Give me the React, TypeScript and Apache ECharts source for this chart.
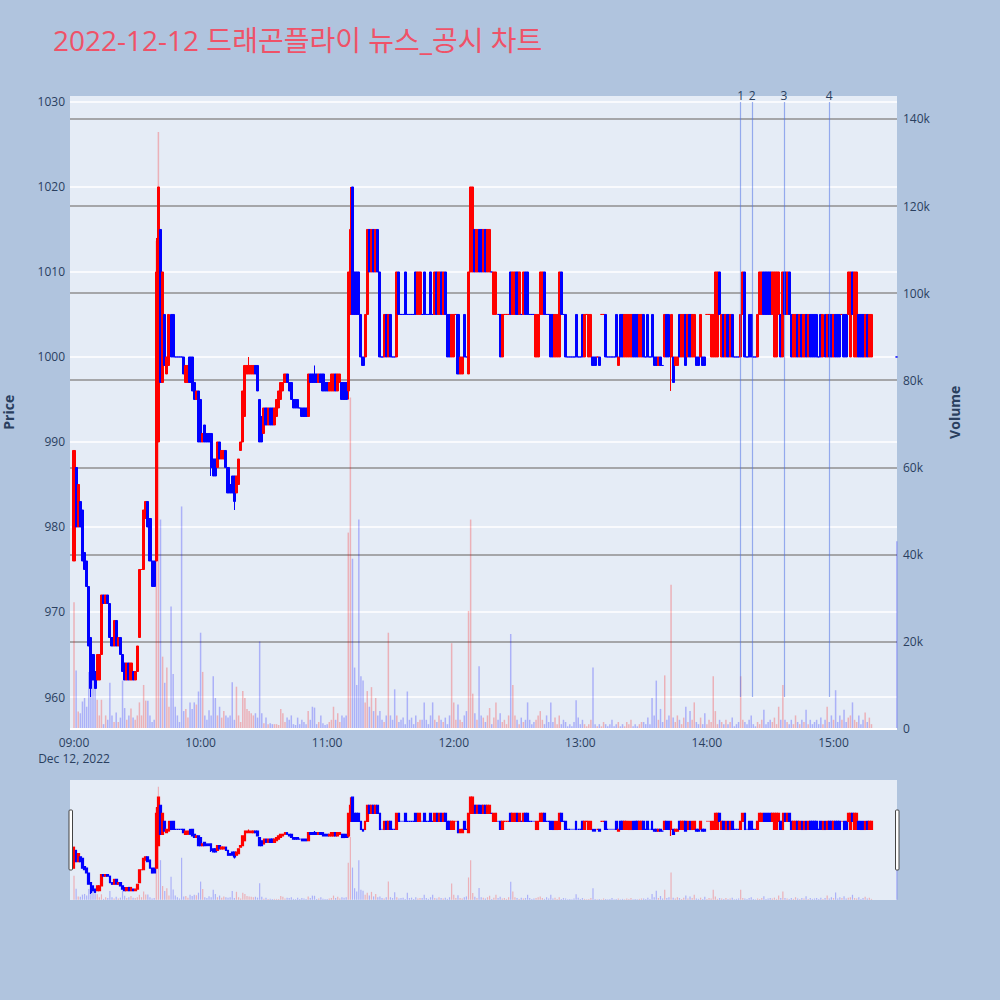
import React, { useEffect, useRef } from 'react';
import * as echarts from 'echarts';

const TITLE = '2022-12-12 드래곤플라이 뉴스_공시 차트';
const SESSION_DATE = 'Dec 12, 2022';
const FONT = "'Open Sans', 'Noto Sans CJK KR', sans-serif";

// one candle per minute, index 0 = 09:00
const opens = [
  976, 987, 980, 983, 982, 977, 976, 973, 967, 965,
  963, 962, 962, 965, 972, 971, 972, 971, 967, 966,
  969, 966, 967, 965, 964, 962, 964, 962, 963, 962,
  963, 967, 975, 975, 981, 983, 981, 976, 976, 976,
  990, 1015, 997, 1005, 998, 999, 1005, 1005, 1000, 1000,
  1000, 1000, 1000, 997, 997, 1000, 1000, 997, 995, 996,
  995, 990, 992, 991, 991, 991, 988, 988, 987, 990,
  988, 988, 989, 987, 985, 986, 986, 984, 985, 989,
  990, 993, 998, 998, 998, 998, 999, 999, 995, 993,
  991, 994, 992, 994, 994, 992, 993, 994, 995, 996,
  997, 998, 997, 997, 995, 995, 995, 994, 994, 994,
  994, 993, 998, 998, 998, 998, 997, 998, 998, 997,
  997, 996, 996, 996, 998, 996, 997, 997, 997, 997,
  996, 1005, 1020, 1010, 1010, 1010, 1005, 1000, 1000, 1005,
  1015, 1010, 1015, 1010, 1015, 1010, 1000, 1000, 1005, 1000,
  1005, 1000, 1000, 1000, 1010, 1005, 1005, 1010, 1005, 1005,
  1005, 1005, 1010, 1005, 1005, 1005, 1010, 1005, 1005, 1010,
  1005, 1005, 1010, 1005, 1010, 1005, 1010, 1005, 1005, 1000,
  1000, 1005, 1005, 998, 998, 1005, 1000, 998, 1010, 1010,
  1015, 1010, 1015, 1015, 1010, 1015, 1010, 1010, 1010, 1005,
  1005, 1005, 1005, 1000, 1005, 1005, 1005, 1010, 1005, 1005,
  1010, 1005, 1005, 1005, 1010, 1010, 1005, 1005, 1005, 1000,
  1000, 1005, 1005, 1010, 1005, 1005, 1005, 1005, 1000, 1000,
  1000, 1010, 1005, 1005, 1000, 1000, 1000, 1000, 1005, 1000,
  1000, 1005, 1000, 1005, 1000, 1000, 1000, 1000, 1000, 1000,
  1005, 1005, 1005, 1000, 1000, 1000, 1000, 1005, 999, 1005,
  1005, 1000, 1000, 1000, 1000, 1005, 1005, 1005, 1000, 1000,
  1005, 1000, 1005, 1000, 1005, 1000, 1000, 999, 1000, 999,
  1000, 1005, 1005, 1000, 1000, 999, 999, 1005, 1000, 1000,
  1005, 1000, 1005, 1000, 1000, 1000, 1000, 1000, 1000, 1000,
  1005, 1005, 1000, 1000, 1000, 1000, 1010, 1000, 1005, 1000,
  1005, 1000, 1005, 1000, 1000, 1000, 1000, 1005, 1010, 1000,
  1005, 1005, 1000, 1000, 1000, 1005, 1005, 1010, 1010, 1010,
  1010, 1005, 1000, 1000, 1005, 1005, 1000, 1010, 1005, 1010,
  1005, 1000, 1000, 1005, 1000, 1005, 1000, 1005, 1000, 1005,
  1005, 1005, 1005, 1000, 1005, 1000, 1005, 1000, 1005, 1005,
  1000, 1005, 1005, 1005, 1005, 1005, 1005, 1005, 1000, 1010,
  1000, 1000, 1005, 1005, 1005, 1000, 1005, 1000, 1000,
];

const closes = [
  989, 980, 985, 980, 976, 975, 973, 966, 961, 962,
  961, 965, 965, 972, 971, 972, 971, 967, 966, 969,
  966, 967, 965, 963, 962, 964, 962, 964, 962, 963,
  966, 975, 975, 982, 983, 980, 976, 973, 973, 1010,
  1020, 997, 1010, 999, 1000, 1005, 1000, 1000, 1000, 1000,
  1000, 1000, 998, 999, 999, 997, 996, 995, 996, 990,
  990, 991, 990, 990, 990, 987, 986, 986, 990, 988,
  989, 989, 987, 984, 984, 984, 983, 986, 988, 990,
  996, 999, 999, 999, 999, 999, 998, 996, 990, 990,
  994, 992, 994, 992, 992, 994, 995, 996, 997, 997,
  998, 997, 996, 995, 994, 994, 994, 994, 993, 993,
  993, 998, 997, 997, 997, 997, 998, 997, 996, 996,
  996, 997, 998, 998, 996, 998, 998, 995, 995, 995,
  1010, 1015, 1005, 1005, 1005, 1005, 1000, 999, 1005, 1015,
  1010, 1015, 1010, 1015, 1010, 1000, 1000, 1005, 1000, 1005,
  1000, 1000, 1000, 1010, 1005, 1005, 1005, 1005, 1005, 1005,
  1005, 1005, 1005, 1010, 1010, 1005, 1005, 1005, 1005, 1005,
  1005, 1010, 1005, 1010, 1005, 1010, 1005, 1000, 1000, 1005,
  1005, 1005, 998, 1000, 1000, 1000, 1000, 1010, 1020, 1020,
  1010, 1015, 1010, 1010, 1015, 1010, 1015, 1015, 1010, 1010,
  1010, 1005, 1000, 1005, 1005, 1005, 1005, 1005, 1010, 1010,
  1005, 1010, 1005, 1010, 1005, 1005, 1005, 1005, 1005, 1005,
  1005, 1010, 1010, 1005, 1005, 1005, 1000, 1000, 1005, 1005,
  1010, 1005, 1005, 1000, 1000, 1000, 1000, 1000, 1000, 1000,
  1000, 1000, 1005, 1005, 1005, 1005, 999, 999, 1000, 999,
  1005, 1005, 1000, 1000, 1000, 1000, 1000, 1000, 1000, 1000,
  1000, 1005, 1005, 1005, 1005, 1000, 1000, 1000, 1005, 1005,
  1000, 1000, 1000, 1000, 1000, 999, 999, 1000, 999, 999,
  1005, 1000, 1000, 1005, 997, 1000, 1000, 1000, 1005, 1005,
  999, 1005, 1000, 1005, 1005, 999, 999, 1005, 999, 999,
  1005, 1005, 1005, 1005, 1010, 1010, 1005, 1005, 1000, 1005,
  1000, 1005, 1000, 1000, 1000, 1000, 1005, 1010, 1000, 1000,
  1000, 1000, 1000, 1000, 1005, 1010, 1010, 1005, 1005, 1005,
  1005, 1010, 1010, 1010, 1010, 1000, 1010, 1005, 1010, 1005,
  1000, 1005, 1005, 1000, 1005, 1000, 1005, 1000, 1005, 1000,
  1000, 1000, 1000, 1000, 1000, 1005, 1000, 1005, 1000, 1000,
  1005, 1000, 1000, 1000, 1005, 1000, 1000, 1010, 1010, 1005,
  1010, 1010, 1000, 1000, 1000, 1005, 1000, 1005, 1005,
];

// wicks reaching beyond the body (minute index -> price)
const wickHighs: Record<number, number> = { 39: 1014, 60: 995, 83: 1000, 114: 999, 131: 1020 };
const wickLows: Record<number, number> = { 8: 960, 65: 986, 76: 982, 130: 995, 283: 996 };

// volume in thousands of shares, per minute
const volumesK = [
  29, 13.3, 3.9, 3.5, 6.2, 7, 5, 13, 15.7, 13,
  10, 6.6, 3, 6.6, 1, 3, 2, 10.5, 3, 1.5,
  3.7, 1.5, 2.5, 11, 4.7, 2, 3, 4.6, 2.5, 2,
  3, 6, 3, 10, 6.4, 6.4, 3, 1.5, 2, 112,
  137, 48, 16.5, 10.5, 14, 5, 28, 12.5, 5, 3,
  1.5, 51, 4, 4.5, 2.5, 6, 4.5, 6, 5.5, 8.5,
  22, 13, 3, 2, 4.2, 3, 12, 7, 3, 5,
  2.5, 4, 3, 2.5, 3, 10.6, 2, 9.6, 3, 1.5,
  8.6, 7, 4.5, 4, 3.5, 3, 3.5, 2.5, 20, 3.5,
  1.2, 2.5, 1, 1.2, 1, 1, 1, 0.8, 4.5, 3.5,
  1.5, 2.5, 2, 3, 1, 0.8, 2.5, 1, 2, 1.5,
  1, 4, 2, 5, 4.8, 1, 1.5, 3, 1.2, 0.8,
  1, 1.5, 2, 5, 2, 3.5, 1.5, 3, 2.5, 3,
  45, 76, 39, 14, 10, 48, 12, 11, 6, 8.6,
  5, 9.5, 4, 7, 3, 4, 2, 1.5, 3, 22,
  3, 2, 9, 3, 1.5, 2, 2.5, 1, 8.5, 2,
  2.5, 1, 3, 1.5, 2, 2, 6, 2, 1, 3,
  6, 2, 1.5, 3, 2, 1.5, 2.5, 1, 3, 19.6,
  6, 2, 5.5, 2, 1.5, 3, 4, 27, 48, 8,
  3.5, 2, 14.3, 3, 2.5, 1.5, 3, 4.7, 1, 2.5,
  6, 2, 3.5, 1.5, 2, 1, 3, 21.7, 10, 3,
  2, 1, 2.5, 1.5, 2, 6, 2, 1, 1.5, 2,
  3, 4, 2, 1, 3, 1.5, 6, 1.5, 2.5, 1,
  3, 1, 2, 1.5, 0.5, 1, 0.5, 1.5, 6.5, 2.5,
  1, 2, 1, 0.5, 1, 2, 14, 1, 0.5, 1,
  0.5, 1.5, 1, 0.5, 1, 2, 0.5, 1, 1.5, 0.5,
  1, 0.5, 1.5, 1, 2, 0.5, 1, 0.5, 1, 1.5,
  1.5, 1, 2.5, 1, 7, 3, 11, 2, 4.5, 1.5,
  12.2, 2, 3, 33, 2.5, 1.5, 3, 2, 1, 2.5,
  5, 1.5, 4, 2, 6, 1.5, 1, 2.5, 1, 3.5,
  1, 2, 1.5, 12, 4, 1, 2, 1.5, 1, 2,
  1, 1.5, 2.5, 0.5, 1, 1.5, 12, 2, 1.5, 1,
  2, 3, 1, 0.5, 1.5, 1, 2, 4.3, 1, 1.5,
  2, 1.5, 2.5, 1, 5, 2, 10, 2, 1.5, 1,
  2, 1, 3, 1.5, 1, 2, 1.5, 4.3, 1, 2,
  1, 1.5, 2, 1, 2.5, 1, 2, 5, 1.5, 3,
  2, 8.8, 1.5, 3, 2, 4.3, 1.5, 2.5, 3, 6,
  2, 1.5, 3, 1, 2, 3.7, 1.5, 2.5, 1,
];

// closing auction print at 15:30
const closingMinute = 390;
const closingOpen = 1000;
const closingClose = 1000;
const closingVolumeK = 43;

// news / disclosure markers (minutes after 09:00)
const eventMinutes = [316, 321.5, 336.5, 358];
const eventLabels = ['1', '2', '3', '4'];

const hourTicks = [0, 60, 120, 180, 240, 300, 360];

const X_MIN = -1.9;
const X_MAX = 390.1;

function hm(m: number) {
  const t = 9 * 60 + m;
  const h = Math.floor(t / 60);
  const mm = t % 60;
  return `${String(h).padStart(2, '0')}:${String(mm).padStart(2, '0')}`;
}

export default function App() {
  const ref = useRef<HTMLDivElement>(null);

  useEffect(() => {
    document.body.style.margin = '0';
    const chart = echarts.init(ref.current!, null, { renderer: 'svg', width: 1000, height: 1000 });

    const minutes = opens.map((_, i) => i).concat([closingMinute]);
    const allOpen = opens.concat([closingOpen]);
    const allClose = closes.concat([closingClose]);
    const allVol = volumesK.concat([closingVolumeK]);

    const UP = '#ff0000';
    const DOWN = '#0000ff';
    const dirs: boolean[] = [];
    allOpen.forEach((o, i) => {
      const c = allClose[i];
      let up: boolean;
      if (c > o) up = true;
      else if (c < o) up = false;
      else {
        const pc = i > 0 ? allClose[i - 1] : c;
        up = c > pc ? true : c < pc ? false : i > 0 ? dirs[i - 1] : false;
      }
      dirs.push(up);
    });

    const candleData = minutes.map((m, i) => {
      const o = allOpen[i];
      const c = allClose[i];
      const hi = Math.max(o, c, wickHighs[i] ?? -Infinity);
      const lo = Math.min(o, c, wickLows[i] ?? Infinity);
      const col = dirs[i] ? UP : DOWN;
      return {
        value: [m, o, c, lo, hi],
        itemStyle: { color: col, color0: col, borderColor: col, borderColor0: col, borderColorDoji: col },
      };
    });

    const volData = minutes.map((m, i) => ({
      value: [m, allVol[i] * 1000],
      itemStyle: { color: dirs[i] ? 'rgba(255,0,0,0.25)' : 'rgba(0,0,255,0.25)' },
    }));

    const axisText = { color: '#2a3f5f', fontSize: 12, fontFamily: FONT };
    const hidden = { axisLine: { show: false }, axisTick: { show: false }, axisLabel: { show: false }, splitLine: { show: false } };

    const option: any = {
      animation: false,
      backgroundColor: '#b0c4de',
      title: {
        text: TITLE,
        left: 48,
        top: 21,
        textStyle: { color: '#ef5268', fontSize: 28, fontWeight: 'normal', fontFamily: FONT },
      },
      graphic: [
        { type: 'rect', silent: true, z: -10, shape: { x: 70, y: 96, width: 827, height: 634 }, style: { fill: '#e5ecf6' } },
        { type: 'rect', silent: true, z: -10, shape: { x: 70, y: 780, width: 827, height: 120 }, style: { fill: '#e5ecf6' } },
        { type: 'rect', silent: true, z: 50, shape: { x: 69, y: 810, width: 3.5, height: 60, r: 1 }, style: { fill: '#ffffff', stroke: '#444', lineWidth: 1 } },
        { type: 'rect', silent: true, z: 50, shape: { x: 895.5, y: 810, width: 3.5, height: 60, r: 1 }, style: { fill: '#ffffff', stroke: '#444', lineWidth: 1 } },
      ],
      grid: [
        { left: 70, top: 96, width: 827, height: 601, outerBoundsMode: 'none', containLabel: false },
        { left: 70, top: 96, width: 827, height: 632.5, outerBoundsMode: 'none', containLabel: false },
        { left: 70, top: 780, width: 827, height: 120, outerBoundsMode: 'none', containLabel: false },
      ],
      xAxis: [
        { type: 'value', gridIndex: 0, min: X_MIN, max: X_MAX, show: false },
        {
          type: 'value', gridIndex: 1, min: X_MIN, max: X_MAX,
          axisLine: { show: false }, axisTick: { show: false }, splitLine: { show: false },
          axisLabel: {
            ...axisText,
            margin: 6,
            lineHeight: 16,
            customValues: hourTicks,
            formatter: (v: number) => (v === 0 ? `${hm(v)}\n${SESSION_DATE}` : hm(v)),
          },
        },
        { type: 'value', gridIndex: 2, min: X_MIN, max: X_MAX, show: false },
      ],
      yAxis: [
        {
          type: 'value', gridIndex: 0, position: 'left', min: 960, max: 1030.7, interval: 10,
          axisLine: { show: false }, axisTick: { show: false },
          axisLabel: { ...axisText, margin: 5, showMaxLabel: false, formatter: (v: number) => String(v) },
          splitLine: { show: true, showMaxLine: false, lineStyle: { color: '#ffffff', width: 1.5 } },
        },
        {
          type: 'value', gridIndex: 1, position: 'right', min: 0, max: 145280, interval: 20000,
          axisLine: { show: false }, axisTick: { show: false },
          axisLabel: { ...axisText, margin: 6, showMaxLabel: false, formatter: (v: number) => (v === 0 ? '0' : `${v / 1000}k`) },
          splitLine: { show: true, showMinLine: false, showMaxLine: false, lineStyle: { color: '#8f8f8f', width: 1.5 } },
          name: 'Volume', nameLocation: 'middle', nameGap: 50,
          nameTextStyle: { color: '#2a3f5f', fontSize: 14, fontWeight: 'bold', fontFamily: FONT },
        },
        {
          type: 'value', gridIndex: 1, position: 'left', min: 0, max: 145280,
          ...hidden,
          name: 'Price', nameLocation: 'middle', nameGap: 55,
          nameTextStyle: { color: '#2a3f5f', fontSize: 14, fontWeight: 'bold', fontFamily: FONT },
        },
        { type: 'value', gridIndex: 2, min: 956.24, max: 1030.67, show: false },
        { type: 'value', gridIndex: 2, min: -345, max: 145280, show: false },
      ],
      series: [
        {
          type: 'bar', name: 'Volume', xAxisIndex: 1, yAxisIndex: 1, barWidth: 1.5, z: 1,
          data: volData,
          markLine: {
            silent: true, symbol: ['none', 'none'], label: { show: false },
            lineStyle: { color: '#ffffff', width: 2, type: 'solid' },
            data: [{ yAxis: 0 }],
          },
        },
        {
          type: 'candlestick', name: 'Price', xAxisIndex: 0, yAxisIndex: 0, barWidth: 2.6, z: 3,
          encode: { x: 0, y: [1, 2, 3, 4] },
          itemStyle: { borderWidth: 1 },
          data: candleData,
          markLine: {
            silent: true, symbol: ['none', 'none'],
            lineStyle: { color: 'rgba(80,115,230,0.55)', width: 1.2, type: 'solid' },
            label: { show: true, position: 'end', distance: 0, formatter: (p: any) => p.name, ...axisText },
            data: eventMinutes.map((m, i) => [
              { name: eventLabels[i], coord: [m, 960] },
              { coord: [m, 1030] },
            ]),
          },
        },
        {
          type: 'bar', xAxisIndex: 2, yAxisIndex: 4, barWidth: 1.2, z: 1,
          data: volData,
        },
        {
          type: 'candlestick', xAxisIndex: 2, yAxisIndex: 3, barWidth: 2.2, z: 3,
          encode: { x: 0, y: [1, 2, 3, 4] },
          itemStyle: { borderWidth: 1.2 },
          data: candleData,
        },
      ],
    };

    chart.setOption(option);
    return () => chart.dispose();
  }, []);

  return <div ref={ref} style={{ width: 1000, height: 1000 }} />;
}
